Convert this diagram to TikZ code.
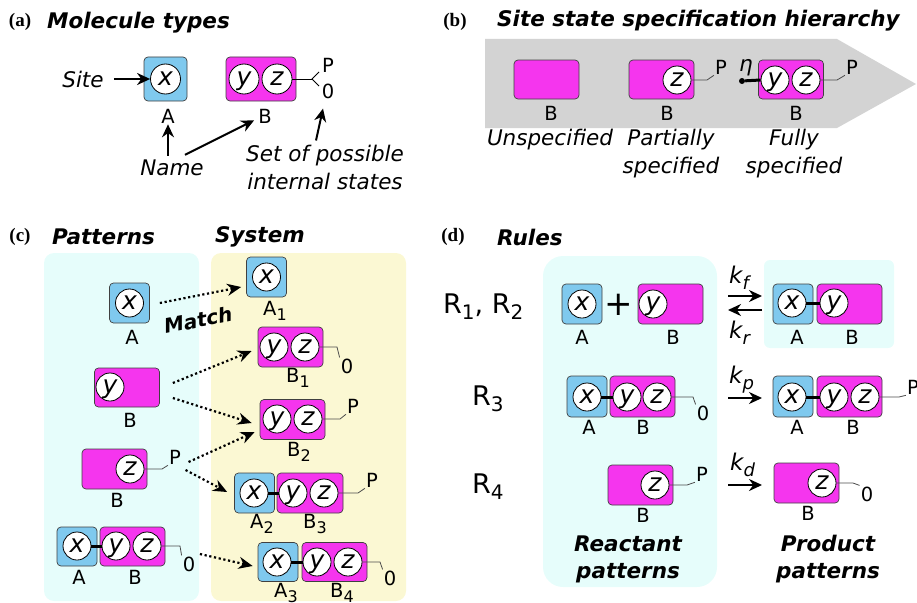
\documentclass[tikz,border=0pt]{standalone}
\usepackage{fontspec}
\setmainfont{DejaVu Sans}
\newfontfamily\pnlserif{Liberation Serif}
\usetikzlibrary{arrows.meta}
\definecolor{molblue}{HTML}{7FC9EE}
\definecolor{molmag}{HTML}{F535EE}
\definecolor{bgcyan}{HTML}{E6FDFB}
\definecolor{bgyellow}{HTML}{FBF8D3}
\definecolor{hiergray}{HTML}{D3D3D3}
\newcommand\fLbl{\fontsize{19.5}{21}\selectfont}
\newcommand\fSite{\fontsize{25}{27}\selectfont\itshape}
\newcommand\fTxt{\fontsize{21.5}{28}\selectfont\itshape}
\newcommand\fTtl{\fontsize{21.5}{27}\selectfont\bfseries\itshape}
\newcommand\fMatch{\fontsize{20}{22}\selectfont\bfseries\itshape}
\newcommand\fPnl{\fontsize{19}{21}\selectfont\pnlserif\bfseries}
\newcommand\fBig{\fontsize{27}{29}\selectfont}
\newcommand\fK{\fontsize{23}{25}\selectfont\itshape}
\newcommand\sbs[1]{\raisebox{-0.3em}{\fontsize{16}{16}\selectfont #1}}
\newcommand\sbsB[1]{\raisebox{-0.25em}{\fontsize{20}{20}\selectfont #1}}
\newcommand\sbsK[1]{\raisebox{-0.3em}{\fontsize{18}{18}\selectfont #1}}
\begin{document}
\begin{tikzpicture}[x=1pt,y=-1pt,
  abox/.style={rectangle, draw=black!75, fill=molblue, rounded corners=4pt, minimum width=40pt, minimum height=40pt, inner sep=0pt, line width=0.7pt},
  bbox/.style={abox, fill=molmag, minimum width=65pt},
  site/.style={circle, draw=black, fill=white, minimum size=28pt, inner sep=0pt, line width=0.8pt, font=\fSite, text height=13pt, text depth=0pt},
  lbl/.style={font=\fLbl, inner sep=1pt},
  sublbl/.style={font=\fLbl, inner sep=0pt, anchor=base west},
  txt/.style={font=\fTxt, inner sep=1pt, align=center},
  ttl/.style={font=\fTtl, inner sep=0pt, anchor=west},
  pnl/.style={font=\fPnl, inner sep=0pt},
  bigl/.style={font=\fBig, inner sep=0pt, anchor=base west},
  klbl/.style={font=\fK, inner sep=0pt, anchor=base west},
  bond/.style={line width=3pt},
  stl/.style={draw=black!70, line width=0.8pt},
  dot/.style={circle, fill=black, inner sep=0pt, minimum size=6pt},
  solidarr/.style={-{Stealth[length=13pt,width=12pt]}, line width=2pt},
  matcharr/.style={-{Stealth[length=14pt,width=12pt]}, line width=2.2pt, dash pattern=on 2.2pt off 2.6pt}
]
\useasboundingbox (0,0) rectangle (917,602);

% ---------- panel (a)
\node[pnl] (pa) at (20,22) {(a)};
\node[ttl] (ta) at (47,23) {Molecule types};
\node[abox, minimum width=43pt, minimum height=44pt] (aA) at (165.5,79) {};
\node[site, minimum size=30pt] (aAx) at (165.5,79) {x};
\node[lbl] (aAl) at (168,116) {A};
\node[txt] (aSite) at (83,79) {Site};
\draw[solidarr] ([xshift=9pt]aSite.east) -- (aAx.west);
\node[bbox, minimum width=70pt, minimum height=44pt] (aB) at (261,79) {};
\node[site, minimum size=30pt] (aBy) at (244,79) {y};
\node[site, minimum size=30pt] (aBz) at (277,79) {z};
\node[lbl] (aBl) at (265,116) {B};
\node[lbl] (aP) at (328,65) {P};
\node[lbl] (a0) at (328,91) {0};
\coordinate (aFork) at (312,79);
\coordinate (aFP) at (319,72);
\coordinate (aF0) at (319,86);
\draw[line width=0.8pt] (aBz.east) -- (aFork);
\draw[line width=0.8pt] (aFP) -- (aFork) -- (aF0);
\node[txt] (aName) at (172,168) {Name};
\coordinate (aNameTop) at ([yshift=3pt]aName.north);
\draw[solidarr] (aNameTop -| aAl.south) -- (aAl.south);
\draw[solidarr] ([shift={(13,-4)}]aName.north) -- ([shift={(-3,-4)}]aBl.south west);
\node[txt] (aSet) at (325,167) {Set of possible\\internal states};
\draw[solidarr] ([shift={(-9,-3)}]aSet.north) -- ([shift={(-5,9)}]a0.south);

% ---------- panel (b)
\node[pnl] (pb) at (455,22) {(b)};
\node[ttl] (tb) at (497,21) {Site state specification hierarchy};
\fill[hiergray] (485,39) -- (837,39) -- (916,84) -- (837,128) -- (485,128) -- cycle;
\node[bbox, minimum height=39pt] (bU) at (546.5,79.5) {};
\node[lbl] (bUl) at (551,113) {B};
\node[txt] (bUt) at (550,140) {Unspecified};
\node[bbox, minimum height=39pt] (bP) at (661.5,79.5) {};
\node[site] (bPz) at (677,80) {z};
\coordinate (bPc) at (707,80);
\node[lbl] (bPP) at (721,67) {P};
\draw[stl] (bPz.east) -- (bPc) -- (bPP.south west);
\node[lbl] (bPl) at (667,113) {B};
\node[txt] (bPt) at (671,154) {Partially\\specified};
\node[bbox, minimum height=39pt] (bF) at (791,79.5) {};
\node[site] (bFy) at (775,80) {y};
\node[site] (bFz) at (806,80) {z};
\node[dot] (bFd) at (742,81) {};
\draw[bond] (bFd) -- (bFy.west);
\node[txt] (bFeta) at (746,68) {η};
\coordinate (bFc) at (837,80);
\node[lbl] (bFP) at (852,67) {P};
\draw[stl] (bFz.east) -- (bFc) -- (bFP.south west);
\node[lbl] (bFl) at (796,113) {B};
\node[txt] (bFt) at (794,154) {Fully\\specified};

% ---------- panel (c)
\node[pnl] (pc) at (20,237) {(c)};
\node[ttl] (tc1) at (52,237) {Patterns};
\node[ttl] (tc2) at (215,237) {System};
\fill[bgcyan, rounded corners=10pt] (44,253) rectangle (199,601);
\fill[bgyellow, rounded corners=10pt] (211,253) rectangle (406,601);
% patterns
\node[abox] (cA) at (129.5,303) {};
\node[site] (cAx) at (129.5,303) {x};
\node[lbl] (cAl) at (132,337) {A};
\node[bbox, minimum height=39pt] (cBy) at (127,387.5) {};
\node[site] (cByy) at (110,387) {y};
\node[lbl] (cByl) at (130,420) {B};
\node[bbox] (cBz) at (114.5,469) {};
\node[site] (cBzz) at (130,469) {z};
\coordinate (cBzc) at (162,469);
\node[lbl] (cBzP) at (175,457) {P};
\draw[stl] (cBzz.east) -- (cBzc) -- (cBzP.south west);
\node[lbl] (cBzl) at (117,500) {B};
\node[abox, minimum height=39pt] (cABa) at (77,546.5) {};
\node[bbox, minimum height=39pt] (cABb) at (132.5,546.5) {};
\node[site] (cABx) at (77,546) {x};
\node[site] (cABy) at (116,546) {y};
\node[site] (cABz) at (147,546) {z};
\draw[bond] (cABx.east) -- (cABy.west);
\coordinate (cABc) at (180,546);
\node[lbl] (cAB0) at (189,564) {0};
\draw[stl] (cABz.east) -- (cABc) -- (cAB0.north west);
\node[lbl] (cABal) at (79,577) {A};
\node[lbl] (cABbl) at (135,577) {B};
% system
\node[abox] (cA1) at (266.5,277) {};
\node[site] (cA1x) at (266.5,277) {x};
\node[sublbl] (cA1l) at (263,315) {A\sbs{1}};
\node[bbox] (cB1) at (290.5,347) {};
\node[site] (cB1y) at (274,347) {y};
\node[site] (cB1z) at (305,347) {z};
\coordinate (cB1c) at (337,347);
\node[lbl] (cB10) at (347,366) {0};
\draw[stl] (cB1z.east) -- (cB1c) -- (cB10.north west);
\node[sublbl] (cB1l) at (286,382) {B\sbs{1}};
\node[bbox] (cB2) at (292.5,419.5) {};
\node[site] (cB2y) at (277,419) {y};
\node[site] (cB2z) at (308,419) {z};
\coordinate (cB2c) at (340,419);
\node[lbl] (cB2P) at (353,406) {P};
\draw[stl] (cB2z.east) -- (cB2c) -- (cB2P.south west);
\node[sublbl] (cB2l) at (287,456) {B\sbs{2}};
\node[abox] (cA2) at (254.5,493) {};
\node[bbox, minimum width=66pt] (cB3) at (310,493) {};
\node[site] (cA2x) at (254,493) {x};
\node[site] (cB3y) at (293,493) {y};
\node[site] (cB3z) at (324,493) {z};
\draw[bond] (cA2x.east) -- (cB3y.west);
\coordinate (cB3c) at (358,493);
\node[lbl] (cB3P) at (372,480) {P};
\draw[stl] (cB3z.east) -- (cB3c) -- (cB3P.south west);
\node[sublbl] (cA2l) at (250,528) {A\sbs{2}};
\node[sublbl] (cB3l) at (303,528) {B\sbs{3}};
\node[abox, minimum height=39pt] (cA3) at (278,562) {};
\node[bbox, minimum height=39pt] (cB4) at (334.5,562) {};
\node[site] (cA3x) at (277,562) {x};
\node[site] (cB4y) at (317,562) {y};
\node[site] (cB4z) at (348,562) {z};
\draw[bond] (cA3x.east) -- (cB4y.west);
\coordinate (cB4c) at (380,562);
\node[lbl] (cB40) at (390,578) {0};
\draw[stl] (cB4z.east) -- (cB4c) -- (cB40.north west);
\node[sublbl] (cA3l) at (274,597) {A\sbs{3}};
\node[sublbl] (cB4l) at (330,597) {B\sbs{4}};
% matches
\draw[matcharr] ([shift={(10,0)}]cA.east) -- ([shift={(-5,10)}]cA1.west);
\draw[matcharr] ([shift={(13,-4.5)}]cBy.east) -- ([shift={(-6,4)}]cB1.west);
\draw[matcharr] ([shift={(13,10.5)}]cBy.east) -- ([shift={(-8,3.5)}]cB2.west);
\draw[matcharr] ([shift={(6.5,5)}]cBzP.east) -- ([shift={(-5,12.5)}]cB2.west);
\draw[matcharr] ([shift={(3.5,13)}]cBzP.east) -- ([shift={(-7,-1)}]cA2.west);
\draw[matcharr] ([shift={(3.5,-10)}]cAB0.east) -- ([shift={(-5,4)}]cA3.west);
\node[font=\fMatch, rotate=11, inner sep=0pt] (cMatch) at (198,320) {Match};

% ---------- panel (d)
\node[pnl] (pd) at (453,237) {(d)};
\node[ttl] (td) at (497,237) {Rules};
\fill[bgcyan, rounded corners=20pt] (543,256) rectangle (717,587);
\fill[bgcyan, rounded corners=6pt] (764,260) rectangle (894,348);
\node[bigl] (dR12) at (443,313) {R\sbsB{1}, R\sbsB{2}};
\node[bigl] (dR3) at (472,405) {R\sbsB{3}};
\node[bigl] (dR4) at (472,493) {R\sbsB{4}};
% R1,R2
\node[abox] (d1A) at (582,304) {};
\node[site] (d1Ax) at (582,304) {x};
\node[lbl] (d1Al) at (582,337) {A};
\node[font=\fontsize{34}{36}\selectfont, inner sep=0pt] (d1plus) at (619,305) {+};
\node[bbox] (d1B) at (670.5,304) {};
\node[site] (d1By) at (653,304) {y};
\node[lbl] (d1Bl) at (673,337) {B};
\coordinate (dfa) at (728,296);
\coordinate (dfb) at (762,296);
\coordinate (dra) at (762,310);
\coordinate (drb) at (728,310);
\draw[solidarr] (dfa) -- (dfb);
\draw[solidarr] (dra) -- (drb);
\node[klbl] (dkf) at (729,283) {k\sbsK{f}};
\node[klbl] (dkr) at (729,338) {k\sbsK{r}};
\node[abox] (d1pA) at (793,304) {};
\node[bbox] (d1pB) at (849.5,304) {};
\node[site] (d1pAx) at (792,303) {x};
\node[site] (d1pBy) at (834,303) {y};
\draw[bond] (d1pAx.east) -- (d1pBy.west);
\node[lbl] (d1pAl) at (797,337) {A};
\node[lbl] (d1pBl) at (852,337) {B};
% R3
\node[abox, minimum height=41pt] (d3A) at (587,396.5) {};
\node[bbox, minimum height=41pt] (d3B) at (642.5,396.5) {};
\node[site] (d3Ax) at (587,397) {x};
\node[site] (d3By) at (627,397) {y};
\node[site] (d3Bz) at (657,397) {z};
\draw[bond] (d3Ax.east) -- (d3By.west);
\coordinate (d3c) at (693,397);
\node[lbl] (d30) at (703,413) {0};
\draw[stl] (d3Bz.east) -- (d3c) -- (d30.north west);
\node[lbl] (d3Al) at (589,427) {A};
\node[lbl] (d3Bl) at (643,427) {B};
\coordinate (dpa) at (728,398);
\coordinate (dpb) at (762,398);
\draw[solidarr] (dpa) -- (dpb);
\node[klbl] (dkp) at (729,383) {k\sbsK{p}};
\node[abox, minimum height=41pt] (d3pA) at (793,396.5) {};
\node[bbox, minimum height=41pt] (d3pB) at (849.5,396.5) {};
\node[site] (d3pAx) at (792,397) {x};
\node[site] (d3pBy) at (834,397) {y};
\node[site] (d3pBz) at (865,397) {z};
\draw[bond] (d3pAx.east) -- (d3pBy.west);
\coordinate (d3pc) at (899,397);
\node[lbl] (d3pP) at (913,387) {P};
\draw[stl] (d3pBz.east) -- (d3pc) -- (d3pP.south west);
\node[lbl] (d3pAl) at (797,427) {A};
\node[lbl] (d3pBl) at (853,427) {B};
% R4
\node[bbox] (d4B) at (640.5,485) {};
\node[site] (d4Bz) at (655,485) {z};
\coordinate (d4c) at (687,485);
\node[lbl] (d4P) at (702,474) {P};
\draw[stl] (d4Bz.east) -- (d4c) -- (d4P.south west);
\node[lbl] (d4Bl) at (643,515) {B};
\coordinate (dda) at (728,485);
\coordinate (ddb) at (762,485);
\draw[solidarr] (dda) -- (ddb);
\node[klbl] (dkd) at (730,470) {k\sbsK{d}};
\node[bbox] (d4pB) at (806.5,483) {};
\node[site] (d4pBz) at (822,483) {z};
\coordinate (d4pc) at (853,483);
\node[lbl] (d4p0) at (867,494) {0};
\draw[stl] (d4pBz.east) -- (d4pc) -- (d4p0.north west);
\node[lbl] (d4pBl) at (808,513) {B};
\node[font=\fTtl, align=center, inner sep=0pt] (dReact) at (628,559) {Reactant\\patterns};
\node[font=\fTtl, align=center, inner sep=0pt] (dProd) at (828,559) {Product\\patterns};
\end{tikzpicture}
\end{document}
